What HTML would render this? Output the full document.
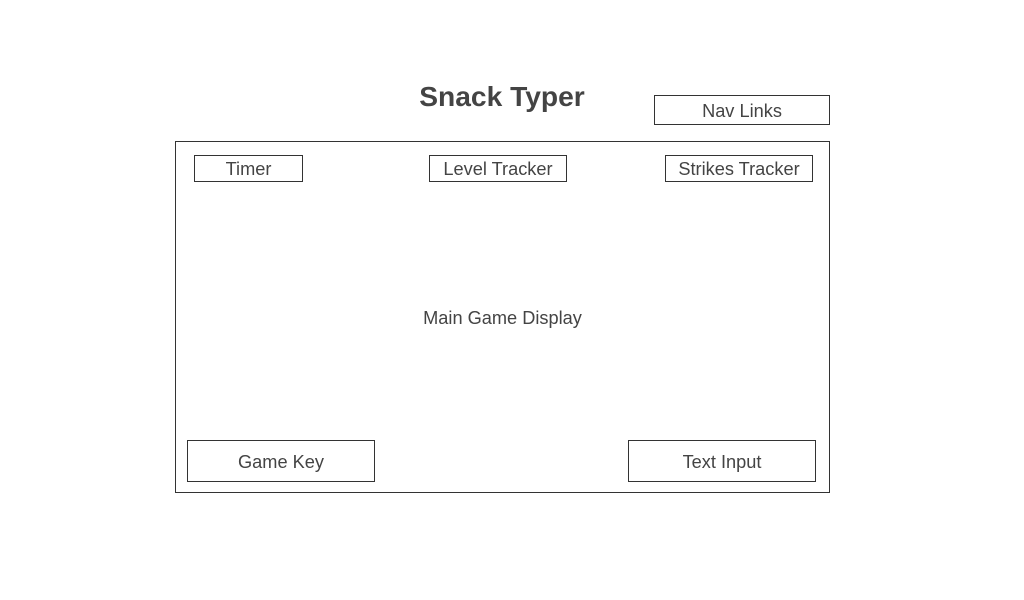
<!DOCTYPE html>
<html><head><style>
body{margin:0;width:1024px;height:600px;background:#fff;position:relative;font-family:"Liberation Sans",sans-serif;color:#444;}
.b{position:absolute;border:1px solid #333;box-sizing:border-box;display:flex;align-items:center;justify-content:center;font-size:18.2px;padding-top:2px;}
.t{position:absolute;font-size:18.2px;}
</style></head><body>
<div class="t" style="left:0;width:1004px;top:80px;text-align:center;font-size:28.2px;font-weight:bold;">Snack Typer</div>
<div class="b" style="left:654px;top:95px;width:176px;height:30px;">Nav Links</div>
<div class="b" style="left:175px;top:141px;width:655px;height:352px;"></div>
<div class="b" style="left:194px;top:155px;width:109px;height:27px;">Timer</div>
<div class="b" style="left:429px;top:155px;width:138px;height:27px;">Level Tracker</div>
<div class="b" style="left:665px;top:155px;width:148px;height:27px;">Strikes Tracker</div>
<div class="t" style="left:175px;width:655px;top:308px;text-align:center;">Main Game Display</div>
<div class="b" style="left:187px;top:440px;width:188px;height:42px;">Game Key</div>
<div class="b" style="left:628px;top:440px;width:188px;height:42px;">Text Input</div>
</body></html>
